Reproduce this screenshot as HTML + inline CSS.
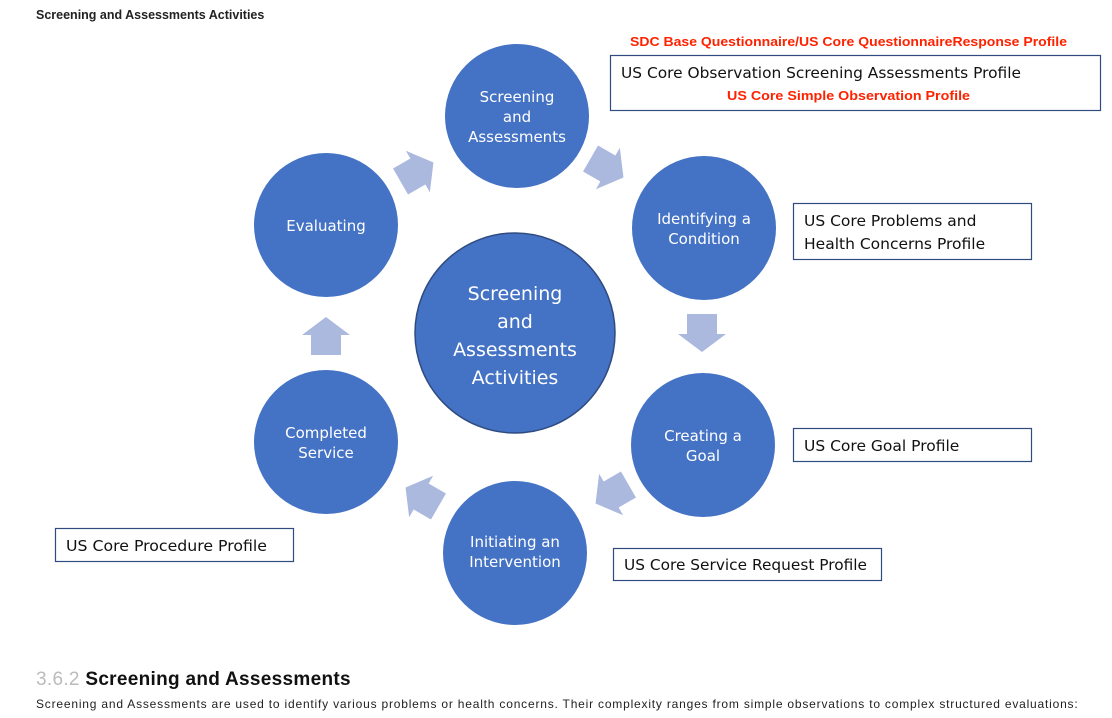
<!DOCTYPE html>
<html><head><meta charset="utf-8"><style>
body{margin:0;width:1112px;height:718px;background:#fff;overflow:hidden;position:relative;font-family:"Liberation Sans",sans-serif}
.t{position:absolute;left:36px;top:8px;font-size:12.5px;font-weight:bold;color:#222}
.h{position:absolute;left:36px;top:669px;font-size:19px;font-weight:bold;color:#111;letter-spacing:0.3px}
.h span{color:#bbb;font-weight:normal}
.p{position:absolute;left:36px;top:697px;font-size:12px;color:#222;white-space:nowrap;letter-spacing:0.8px}
svg{position:absolute;left:0;top:0}
</style></head><body>
<div class="t">Screening and Assessments Activities</div>
<svg width="1112" height="718" font-family="'DejaVu Sans','Liberation Sans',sans-serif">
<defs><polygon id="a" points="-19,-15 1,-15 1,-24 19,0 1,24 1,15 -19,15" fill="#abb9df"/></defs>
<g fill="#4472c4">
<circle cx="517" cy="116" r="72"/>
<circle cx="704" cy="228" r="72"/>
<circle cx="703" cy="445" r="72"/>
<circle cx="515" cy="553" r="72"/>
<circle cx="326" cy="442" r="72"/>
<circle cx="326" cy="225" r="72"/>
<circle cx="515" cy="333" r="100" stroke="#2f4b80" stroke-width="1.5"/>
</g>
<use href="#a" transform="translate(417,172) rotate(-30)"/>
<use href="#a" transform="translate(607,168) rotate(30)"/>
<use href="#a" transform="translate(702,333) rotate(90)"/>
<use href="#a" transform="translate(612,494) rotate(150)"/>
<use href="#a" transform="translate(422,497) rotate(-150)"/>
<use href="#a" transform="translate(326,336) rotate(-90)"/>
<g fill="#fff" font-size="15" text-anchor="middle">
<text x="517" y="102">Screening</text><text x="517" y="122">and</text><text x="517" y="142">Assessments</text>
<text x="704" y="224">Identifying a</text><text x="704" y="244">Condition</text>
<text x="703" y="441">Creating a</text><text x="703" y="461">Goal</text>
<text x="515" y="547">Initiating an</text><text x="515" y="567">Intervention</text>
<text x="326" y="438">Completed</text><text x="326" y="458">Service</text>
<text x="326" y="231">Evaluating</text>
<g font-size="19"><text x="515" y="300">Screening</text><text x="515" y="328">and</text><text x="515" y="356">Assessments</text><text x="515" y="384">Activities</text></g>
</g>
<g fill="#fff" stroke="#2f4b80" stroke-width="1.2">
<rect x="610.5" y="55.5" width="490" height="55"/>
<rect x="793.5" y="203.5" width="238" height="56"/>
<rect x="793.5" y="428.5" width="238" height="33"/>
<rect x="613.5" y="548.5" width="268" height="32"/>
<rect x="55.5" y="528.5" width="238" height="33"/>
</g>
<g font-size="15.5" fill="#111">
<text x="621" y="78" textLength="400" lengthAdjust="spacingAndGlyphs">US Core Observation Screening Assessments Profile</text>
<text x="804" y="226">US Core Problems and</text><text x="804" y="249">Health Concerns Profile</text>
<text x="804" y="451">US Core Goal Profile</text>
<text x="624" y="570" textLength="243" lengthAdjust="spacingAndGlyphs">US Core Service Request Profile</text>
<text x="66" y="551" textLength="201" lengthAdjust="spacingAndGlyphs">US Core Procedure Profile</text>
</g>
<g fill="#ff2200" font-size="13" font-weight="bold" font-family="'Liberation Sans',sans-serif">
<text x="630" y="46" textLength="437" lengthAdjust="spacingAndGlyphs">SDC Base Questionnaire/US Core QuestionnaireResponse Profile</text>
<text x="727" y="100" textLength="243" lengthAdjust="spacingAndGlyphs">US Core Simple Observation Profile</text>
</g>
</svg>
<div class="h"><span>3.6.2</span> Screening and Assessments</div>
<div class="p">Screening and Assessments are used to identify various problems or health concerns. Their complexity ranges from simple observations to complex structured evaluations:</div>
</body></html>
